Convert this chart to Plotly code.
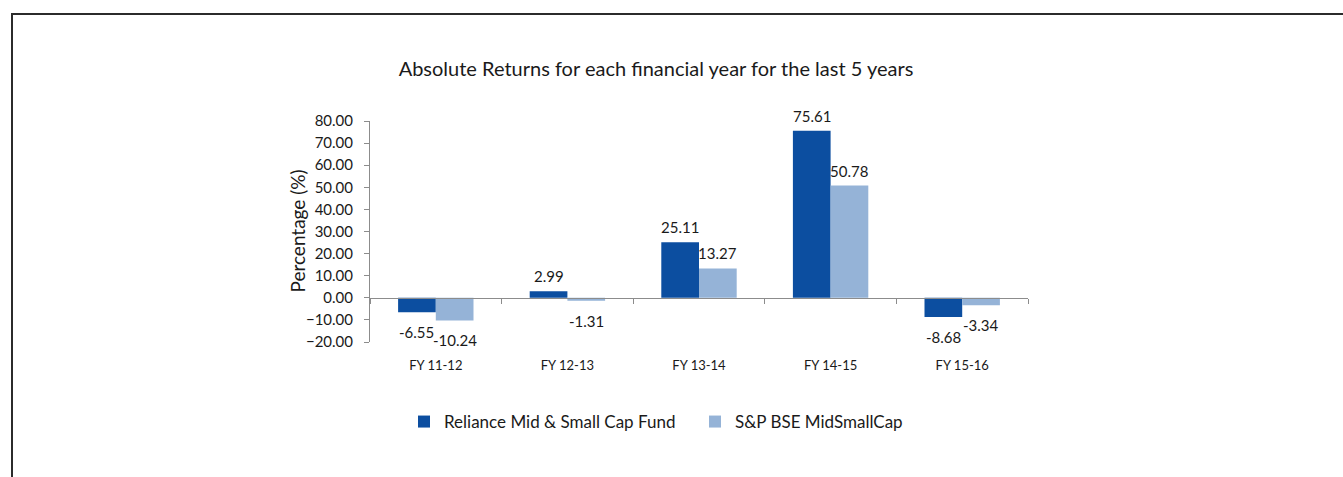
import plotly.graph_objects as go

categories = ["FY 11-12", "FY 12-13", "FY 13-14", "FY 14-15", "FY 15-16"]
fund_name = "Reliance Mid & Small Cap Fund"
bench_name = "S&P BSE MidSmallCap"
fund_values = [-6.55, 2.99, 25.11, 75.61, -8.68]
bench_values = [-10.24, -1.31, 13.27, 50.78, -3.34]
y_ticks = [-20, -10, 0, 10, 20, 30, 40, 50, 60, 70, 80]

FONT = "Lato"
DARK = "#0C4EA0"
LIGHT = "#95B3D7"
AXIS = "#8C8C8C"
TEXT = "#1A1A1A"

W, H = 1343, 477
L, R, T, B = 370, 315, 121, 135
plot_w = W - L - R
cat_w = plot_w / len(categories)
bargap = 0.427
bar_w = cat_w * (1 - bargap) / 2

ymin, ymax = y_ticks[0], y_ticks[-1]
zero_pos = (0 - ymin) / (ymax - ymin)

fig = go.Figure()
fig.add_trace(go.Bar(x=categories, y=fund_values, name=fund_name,
                     marker=dict(color=DARK, line=dict(width=0))))
fig.add_trace(go.Bar(x=categories, y=bench_values, name=bench_name,
                     marker=dict(color=LIGHT, line=dict(width=0))))
# invisible carrier so the bottom category axis (labels below the plot) is drawn
fig.add_trace(go.Scatter(x=categories, y=[ymin] * len(categories), xaxis="x2", yaxis="y",
                         mode="markers", marker=dict(opacity=0), showlegend=False,
                         hoverinfo="skip"))

annotations = []
for vals, sgn in ((fund_values, -1), (bench_values, 1)):
    for c, v in zip(categories, vals):
        annotations.append(dict(
            x=c, y=v, xref="x", yref="y", text=f"{v:.2f}", showarrow=False,
            xshift=sgn * bar_w / 2, yshift=15 if v >= 0 else -20,
            font=dict(family=FONT, size=15, color=TEXT),
            xanchor="center", yanchor="middle"))

# y-axis title
annotations.append(dict(text="Percentage (%)", textangle=-90, showarrow=False,
                        xref="paper", yref="paper", x=0, y=0.5, xshift=-73,
                        xanchor="center", yanchor="middle",
                        font=dict(family=FONT, size=19, color=TEXT)))

fig.update_layout(
    width=W, height=H,
    margin=dict(l=L, r=R, t=T, b=B),
    paper_bgcolor="white", plot_bgcolor="white",
    barmode="group", bargap=bargap, bargroupgap=0,
    font=dict(family=FONT, size=14, color=TEXT),
    title=dict(text="Absolute Returns for each financial year for the last 5 years",
               xref="container", yref="container", x=656 / W, y=1 - 69 / H,
               xanchor="center", yanchor="middle",
               font=dict(family=FONT, size=20, color=TEXT)),
    xaxis=dict(type="category", anchor="free", position=zero_pos,
               range=[-0.5, len(categories) - 0.5],
               showline=True, linecolor=AXIS, linewidth=1,
               ticks="outside", tickson="boundaries", ticklen=5, tickcolor=AXIS,
               showticklabels=False, showgrid=False, zeroline=False),
    xaxis2=dict(type="category", overlaying="x", anchor="y", side="bottom",
                range=[-0.5, len(categories) - 0.5],
                showline=False, ticks="", showgrid=False, zeroline=False,
                ticklabelstandoff=14,
                tickfont=dict(family=FONT, size=13, color=TEXT)),
    yaxis=dict(range=[ymin, ymax], tickmode="array", tickvals=y_ticks,
               tickformat=".2f", showline=True, linecolor=AXIS, linewidth=1,
               ticks="outside", ticklen=5, tickcolor=AXIS,
               showgrid=False, zeroline=False, ticklabelstandoff=8,
               tickfont=dict(family=FONT, size=15, color=TEXT)),
    legend=dict(orientation="h", xref="container", yref="container",
                x=404 / W, y=1 - 422 / H, xanchor="left", yanchor="middle",
                font=dict(family=FONT, size=17, color=TEXT),
                entrywidth=246, entrywidthmode="pixels", itemclick=False),
    annotations=annotations,
    shapes=[dict(type="rect", xref="paper", yref="paper",
                 xsizemode="pixel", ysizemode="pixel", xanchor=0, yanchor=1,
                 x0=12 - L, x1=W + 20 - L, y0=(T - 14), y1=-(H - T + 20),
                 line=dict(color="#2B2B2B", width=2), fillcolor="rgba(0,0,0,0)")],
)

fig.write_html("out.html", config={"displayModeBar": False},
               post_script="document.body.style.margin='0px';")
